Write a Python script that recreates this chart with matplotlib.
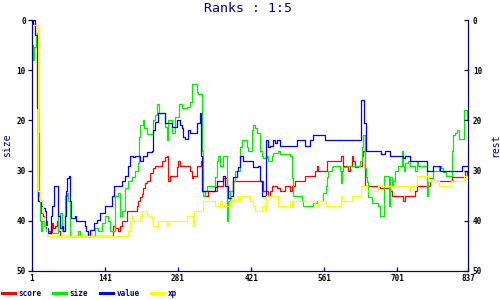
import matplotlib
matplotlib.use("Agg")
from matplotlib import pyplot as plt

plt.rcParams['font.family'] = ['DejaVu Sans Mono']

NAVY = '#000080'

# x positions and ranks (step lines)
score_x = [1, 7, 13, 18, 22, 26, 30, 36, 39, 41, 45, 49, 51, 55, 156, 160, 166, 170, 174, 183,
           202, 204, 208, 212, 214, 218, 222, 227, 233, 237, 250, 256, 260, 262, 266, 275, 279,
           281, 285, 300, 304, 308, 310, 317, 323, 325, 327, 333, 337, 339, 348, 356, 365, 367,
           375, 381, 386, 442, 444, 452, 454, 457, 461, 471, 477, 486, 494, 496, 500, 505, 524,
           544, 547, 549, 565, 567, 594, 594, 597, 607, 611, 615, 617, 620, 626, 634, 636, 640,
           664, 668, 678, 687, 691, 710, 712, 716, 735, 739, 760, 764, 785, 789, 804, 806, 829,
           831, 835, 837]
score_y = [1, 1, 36, 38.5, 39, 40, 42, 42.5, 40.5, 41.5, 41, 40, 42, 43, 41, 41.5, 42, 41, 40, 38,
           37, 36, 35.3, 34.6, 33.5, 32.5, 32, 30.5, 29.5, 29, 28, 27.3, 27, 32, 31, 31, 29.3,
           28, 29, 29, 30, 31.5, 31, 29, 29, 28, 34, 35, 35, 34, 34, 33, 33, 31.5,
           34, 35, 32, 32, 34, 34, 35, 34, 33, 33.5, 34, 33, 33, 34, 33, 32, 31,
           30, 29, 30, 30, 28, 28, 27, 29, 30, 29, 27, 28, 29.3, 29, 27, 26, 33,
           33, 33.5, 33.5, 34, 35, 35, 36, 35, 34, 33, 33, 32, 32, 32, 32, 31.3, 31.3,
           30, 31, 31]

size_x = [1, 3, 5, 9, 11, 12, 13, 14, 16, 18, 20, 24, 28, 32, 41, 51, 55, 58, 64, 68, 70, 74,
          87, 89, 93, 122, 128, 135, 141, 147, 151, 156, 160, 166, 170, 174, 179, 185, 193, 199,
          204, 206, 208, 214, 216, 222, 233, 237, 241, 245, 256, 260, 262, 269, 275, 283, 289,
          298, 304, 308, 316, 317, 319, 325, 327, 329, 333, 337, 348, 352, 356, 358, 362, 367,
          375, 375, 377, 381, 386, 390, 396, 400, 404, 408, 413, 415, 419, 423, 425, 429, 432,
          436, 438, 442, 444, 452, 454, 461, 463, 473, 477, 496, 500, 501, 515, 519, 521, 540,
          547, 559, 565, 567, 569, 576, 578, 592, 594, 595, 597, 605, 626, 630, 634, 636, 638,
          640, 642, 644, 645, 653, 664, 668, 676, 676, 678, 685, 686, 687, 691, 693, 697, 703,
          707, 710, 712, 714, 716, 722, 726, 735, 739, 741, 755, 758, 760, 770, 781, 785, 789,
          795, 804, 806, 808, 812, 816, 820, 829, 829, 831, 835, 837]
size_y = [5, 8, 5.4, 3.4, 2.6, 18, 22.5, 35, 40, 42, 40, 41, 42, 42.4, 42.4, 39, 38.5, 42, 35,
          34.5, 36, 43, 43, 42, 43, 41.5, 42, 40.5, 39, 40, 42, 42, 35, 34.5, 39, 38, 33.5, 32,
          31.3, 30, 28.5, 23.3, 21, 20, 21.5, 22.7, 20, 19, 16.7, 18.5, 21.3, 24, 20, 22.5, 19.3,
          16.7, 17.5, 17.3, 16.3, 12.7, 12.7, 14.3, 14.7, 14.7, 26, 35, 34, 33, 33, 31.3, 28, 27,
          29, 27, 27, 40, 36, 34, 32, 30, 30, 25.3, 24, 24, 25.3, 26, 26, 22, 21, 21.5, 22.5,
          22.5, 26, 27, 27.5, 27, 28, 27, 26.4, 26, 26.6, 27, 31.5, 35, 35, 36, 37, 36.5, 36,
          34.5, 33, 31.3, 30, 29.3, 29, 30, 32.5, 30, 29.3, 29, 29, 28, 25.3, 23, 23, 29.5,
          31.3, 32.3, 35.3, 36.5, 37, 39, 39, 31, 31, 32, 37, 31.3, 33, 32, 30, 29, 29, 26,
          29, 30, 28.5, 28, 29, 30, 28, 29, 29, 35, 31.5, 30, 29, 29.5, 30.3, 31, 31, 26, 23,
          22.5, 22, 23.7, 23.7, 18, 18, 20, 20]

value_x = [1, 3, 7, 11, 13, 18, 22, 26, 28, 32, 37, 39, 43, 49, 51, 55, 58, 60, 64, 66, 68, 72,
           74, 76, 83, 85, 103, 105, 108, 112, 120, 126, 131, 141, 154, 158, 166, 174, 179, 185,
           189, 195, 199, 208, 214, 222, 231, 233, 237, 243, 252, 256, 269, 279, 285, 289, 291,
           294, 300, 304, 314, 317, 323, 325, 327, 348, 352, 356, 367, 371, 377, 385, 386, 394,
           396, 400, 406, 423, 425, 434, 438, 442, 448, 450, 454, 457, 463, 467, 471, 477, 505,
           509, 521, 524, 530, 534, 540, 559, 563, 632, 632, 638, 638, 642, 668, 670, 678, 687,
           710, 712, 716, 724, 726, 755, 758, 770, 770, 781, 783, 825, 825, 837]
value_y = [1, 0, 3, 17.5, 36, 37, 37.5, 38, 41.5, 42.5, 39, 37, 33, 33, 39, 41.5, 41, 42, 39, 34,
           31.5, 31, 36, 39.5, 39, 40, 41, 42, 43, 41.8, 40.5, 39.8, 38.5, 37, 35, 33, 33, 32, 31,
           29, 27, 27.3, 27, 28, 27, 26.3, 26, 22, 20.3, 18.5, 18.5, 20.5, 21.3, 20, 21, 21.5,
           23.3, 23.7, 22, 22.5, 22.5, 20.5, 18.5, 27, 34, 34, 33.2, 32, 31, 33, 35.5, 35, 31.3,
           30, 29.3, 27, 28, 28, 29.3, 29, 32, 35, 35, 24, 25.3, 25, 24, 24.6, 24, 25, 25,
           24, 24, 25, 25, 24, 23, 23, 24, 24, 16, 16, 20.5, 26, 26, 26.6, 26, 27,
           27, 27.5, 27, 27, 28, 28, 30, 30, 29, 29, 30, 30, 29, 29]

xp_x = [1, 3, 11, 12, 13, 16, 20, 22, 26, 30, 183, 185, 189, 193, 195, 208, 212, 218, 222, 231,
        233, 243, 260, 262, 294, 298, 309, 310, 311, 327, 329, 348, 352, 358, 362, 365, 377, 381,
        385, 388, 394, 396, 400, 415, 419, 423, 425, 429, 438, 442, 446, 448, 450, 471, 473, 492,
        496, 500, 501, 544, 549, 565, 592, 594, 595, 611, 615, 632, 632, 640, 644, 663, 664, 722,
        724, 726, 735, 739, 758, 760, 780, 781, 803, 804, 827, 829, 837]
xp_y = [2, 1, 1, 26, 34, 36, 36, 38.5, 41, 43, 43, 42, 40, 39, 40, 39, 38, 38, 39, 40,
        41, 40, 41, 40, 40, 39, 39, 41, 38, 38, 36, 36, 37, 37, 36, 37, 37, 36,
        35.3, 36, 35, 36, 35, 35, 36, 36, 37, 38, 38, 37, 37, 38, 35, 35, 37, 37,
        36, 37, 36, 37, 36, 37, 37, 35, 36, 36, 35, 35, 33, 33, 34, 34, 33, 33,
        34, 33, 33, 31, 31, 32, 32, 33, 33, 32, 32, 31, 31]

x_ticks = [1, 141, 281, 421, 561, 701, 837]
y_ticks = [0, 10, 20, 30, 40, 50]

fig = plt.figure(figsize=(5, 3), dpi=100)
ax = fig.add_axes([0.064, 0.097, 0.872, 0.836])

ax.step(score_x, score_y, where='post', color='#ff0000', lw=0.9, label='score')
ax.step(size_x, size_y, where='post', color='#00f000', lw=0.9, label='size')
ax.step(value_x, value_y, where='post', color='#0000ff', lw=0.9, label='value')
ax.step(xp_x, xp_y, where='post', color='#ffff00', lw=0.9, label='xp')

ax.set_xlim(1, 837)
ax.set_ylim(50, 0)
ax.set_xticks(x_ticks)
ax.set_yticks(y_ticks)
for s in ['left', 'right', 'bottom']:
    ax.spines[s].set_color(NAVY)
ax.spines['top'].set_visible(False)
ax.tick_params(axis='x', direction='in', length=3, width=0.9, color=NAVY, pad=2.5,
               labelsize=5.5)
ax.tick_params(axis='y', direction='out', length=3, width=0.9, color=NAVY, pad=1.5,
               labelsize=5.5)
for t in ax.get_xticklabels() + ax.get_yticklabels():
    t.set_fontweight('bold')

ax.set_ylabel('size', color=NAVY, fontsize=7)
ax.yaxis.set_label_coords(-0.046, 0.5)

ax2 = ax.twinx()
ax2.set_ylim(50, 0)
ax2.set_yticks(y_ticks)
ax2.spines['top'].set_visible(False)
for s in ['left', 'right', 'bottom']:
    ax2.spines[s].set_color(NAVY)
ax2.tick_params(axis='y', direction='in', length=3, width=0.9, color=NAVY, pad=3.5,
                labelsize=5.5)
for t in ax2.get_yticklabels():
    t.set_fontweight('bold')
ax2.set_ylabel('rest', color=NAVY, fontsize=7)
ax2.yaxis.set_label_coords(1.05, 0.5)

fig.suptitle('Ranks : 1:5', color=NAVY, fontsize=9.5, y=0.995, x=0.497)

leg = fig.legend(loc='lower left', bbox_to_anchor=(0.0, 0.0), ncol=4, frameon=False,
                 fontsize=5.5, handlelength=1.7, handletextpad=0.45, columnspacing=1.55,
                 borderpad=0.15, borderaxespad=0.1)
for h in leg.legend_handles:
    h.set_linewidth(2.2)
for t in leg.get_texts():
    t.set_color(NAVY)
    t.set_fontweight('bold')

fig.savefig('out.png', dpi=100)
